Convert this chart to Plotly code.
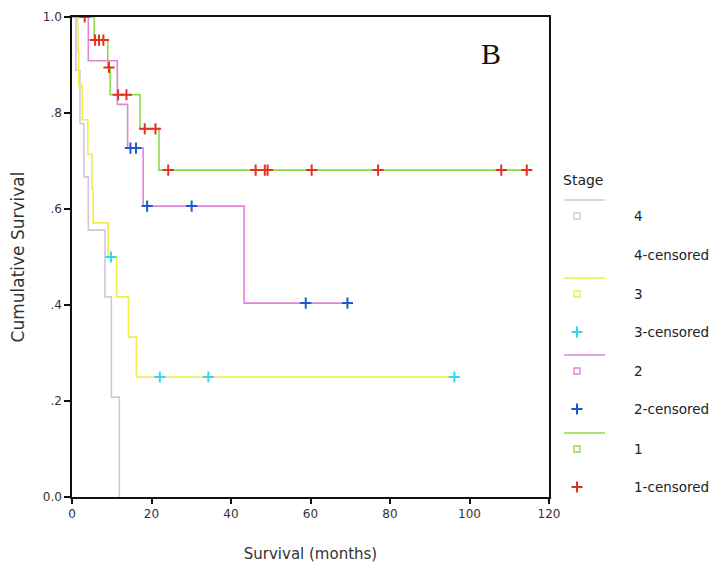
import plotly.graph_objects as go

# ---------------- data ----------------
stage_names = ["4", "3", "2", "1"]

stage4_times = [0, 1.0, 2.0, 3.0, 4.1, 8.3, 9.9, 11.9]
stage4_surv = [1.0, 0.889, 0.778, 0.667, 0.556, 0.417, 0.208, 0.0]
stage4_end = 11.9
stage4_censored = []

stage3_times = [0, 1.5, 1.7, 2.6, 4.0, 5.0, 5.3, 9.1, 11.2, 14.2, 16.2]
stage3_surv = [1.0, 0.929, 0.857, 0.786, 0.714, 0.643, 0.571, 0.5, 0.417, 0.333, 0.25]
stage3_end = 96.2
stage3_censored = [9.8, 22.1, 34.3, 96.2]

stage2_times = [0, 4.1, 11.4, 14.0, 17.9, 43.3]
stage2_surv = [1.0, 0.909, 0.818, 0.727, 0.606, 0.404]
stage2_end = 69.3
stage2_censored = [14.7, 16.1, 18.9, 30.1, 58.8, 69.3]

stage1_times = [0, 5.6, 9.0, 9.6, 17.1, 21.9]
stage1_surv = [1.0, 0.952, 0.895, 0.838, 0.767, 0.681]
stage1_end = 114.4
stage1_censored = [3.2, 5.8, 6.8, 7.9, 9.3, 11.6, 13.7, 18.3, 21.0, 24.2,
                   46.2, 48.5, 49.2, 60.3, 77.0, 108.0, 114.4]

x_ticks = [0, 20, 40, 60, 80, 100, 120]
y_ticks = [0.0, 0.2, 0.4, 0.6, 0.8, 1.0]
y_tick_labels = ["0.0", ".2", ".4", ".6", ".8", "1.0"]

line_colors = {"4": "#cdc8dc", "3": "#eeee4a", "2": "#e283d6", "1": "#8ada48"}
cens_colors = {"4": "#cdc8dc", "3": "#38d6ea", "2": "#1b5cc8", "1": "#e2331e"}

stages = {
    "4": (stage4_times, stage4_surv, stage4_end, stage4_censored),
    "3": (stage3_times, stage3_surv, stage3_end, stage3_censored),
    "2": (stage2_times, stage2_surv, stage2_end, stage2_censored),
    "1": (stage1_times, stage1_surv, stage1_end, stage1_censored),
}


def surv_at(times, surv, t):
    val = surv[0]
    for ti, si in zip(times, surv):
        if ti <= t:
            val = si
    return val


fig = go.Figure()

for name in stage_names:
    times, surv, end, cens = stages[name]
    xs = list(times)
    ys = list(surv)
    if end > xs[-1]:
        xs.append(end)
        ys.append(surv[-1])
    fig.add_trace(go.Scatter(x=xs, y=ys, mode="lines", line_shape="hv",
                             line=dict(color=line_colors[name], width=1.6),
                             showlegend=False, hoverinfo="skip"))
for name in stage_names:
    times, surv, end, cens = stages[name]
    if cens:
        fig.add_trace(go.Scatter(
            x=cens, y=[surv_at(times, surv, t) for t in cens], mode="markers",
            marker=dict(symbol="cross-thin", size=8,
                        line=dict(color=cens_colors[name], width=2)),
            showlegend=False, hoverinfo="skip"))

# ---------------- custom legend on a hidden pixel-scaled axis ----------------
# page body has an 8px margin, so the figure is sized/offset accordingly
OFF = 8
L, R, T, B, W, H = 72 - OFF, 0, 17 - OFF, 73, 717 - OFF, 570 - OFF
plot_right = 549
main_frac = (plot_right - OFF - L) / (W - L - R)

leg_rows = [216, 255, 294, 332, 371, 409, 449, 487]
leg_labels = ["4", "4-censored", "3", "3-censored", "2", "2-censored", "1", "1-censored"]

for i, name in enumerate(stage_names):
    ry = leg_rows[2 * i]
    cy = leg_rows[2 * i + 1]
    fig.add_trace(go.Scatter(x=[564, 605], y=[ry - 16, ry - 16], mode="lines",
                             line=dict(color=line_colors[name], width=1.4),
                             xaxis="x2", yaxis="y2", showlegend=False, hoverinfo="skip"))
    fig.add_trace(go.Scatter(x=[577], y=[ry], mode="markers",
                             marker=dict(symbol="square-open", size=6,
                                         color=line_colors[name],
                                         line=dict(color=line_colors[name], width=1.3)),
                             xaxis="x2", yaxis="y2", showlegend=False, hoverinfo="skip"))
    if name != "4":
        fig.add_trace(go.Scatter(x=[577], y=[cy], mode="markers",
                                 marker=dict(symbol="cross-thin", size=8,
                                             line=dict(color=cens_colors[name], width=2)),
                                 xaxis="x2", yaxis="y2", showlegend=False, hoverinfo="skip"))

FONT = "DejaVu Sans, Verdana, sans-serif"
annotations = [dict(x=561, y=180, xref="x2", yref="y2", text="Stage", showarrow=False,
                    xanchor="left", yanchor="middle",
                    font=dict(family=FONT, size=14, color="#222"))]
for lab, ry in zip(leg_labels, leg_rows):
    annotations.append(dict(x=632, y=ry, xref="x2", yref="y2", text=lab, showarrow=False,
                            xanchor="left", yanchor="middle",
                            font=dict(family=FONT, size=13.5, color="#222")))
annotations.append(dict(x=105.5, y=0.924, xref="x", yref="y", text="B", showarrow=False,
                        xanchor="center", yanchor="middle",
                        font=dict(family="Liberation Serif, Times New Roman", size=30,
                                  color="#111")))

axis_font = dict(family=FONT, size=12, color="#333")
fig.update_layout(
    width=W, height=H,
    margin=dict(l=L, r=R, t=T, b=B),
    paper_bgcolor="white", plot_bgcolor="white",
    showlegend=False,
    annotations=annotations,
    xaxis=dict(domain=[0, main_frac], range=[0, 120], tickvals=x_ticks,
               ticks="outside", ticklen=5, tickwidth=1.5, tickcolor="#111",
               showline=True, linecolor="#111", linewidth=1.5, mirror=True,
               showgrid=False, zeroline=False, tickfont=axis_font, automargin=False,
               title=dict(text="Survival (months)", standoff=28,
                          font=dict(family=FONT, size=15, color="#333"))),
    yaxis=dict(range=[0, 1], tickvals=y_ticks, ticktext=y_tick_labels,
               ticks="outside", ticklen=6, tickwidth=1.5, tickcolor="#111",
               showline=True, linecolor="#111", linewidth=1.5, mirror=True,
               showgrid=False, zeroline=False, tickfont=axis_font, automargin=False,
               title=dict(text="Cumulative Survival", standoff=14,
                          font=dict(family=FONT, size=17, color="#333"))),
    xaxis2=dict(domain=[main_frac, 1], range=[plot_right, 717], visible=False,
                anchor="y2", fixedrange=True),
    yaxis2=dict(domain=[0, 1], range=[497, 17], visible=False, anchor="x2",
                fixedrange=True),
)

fig.write_html("out.html")
